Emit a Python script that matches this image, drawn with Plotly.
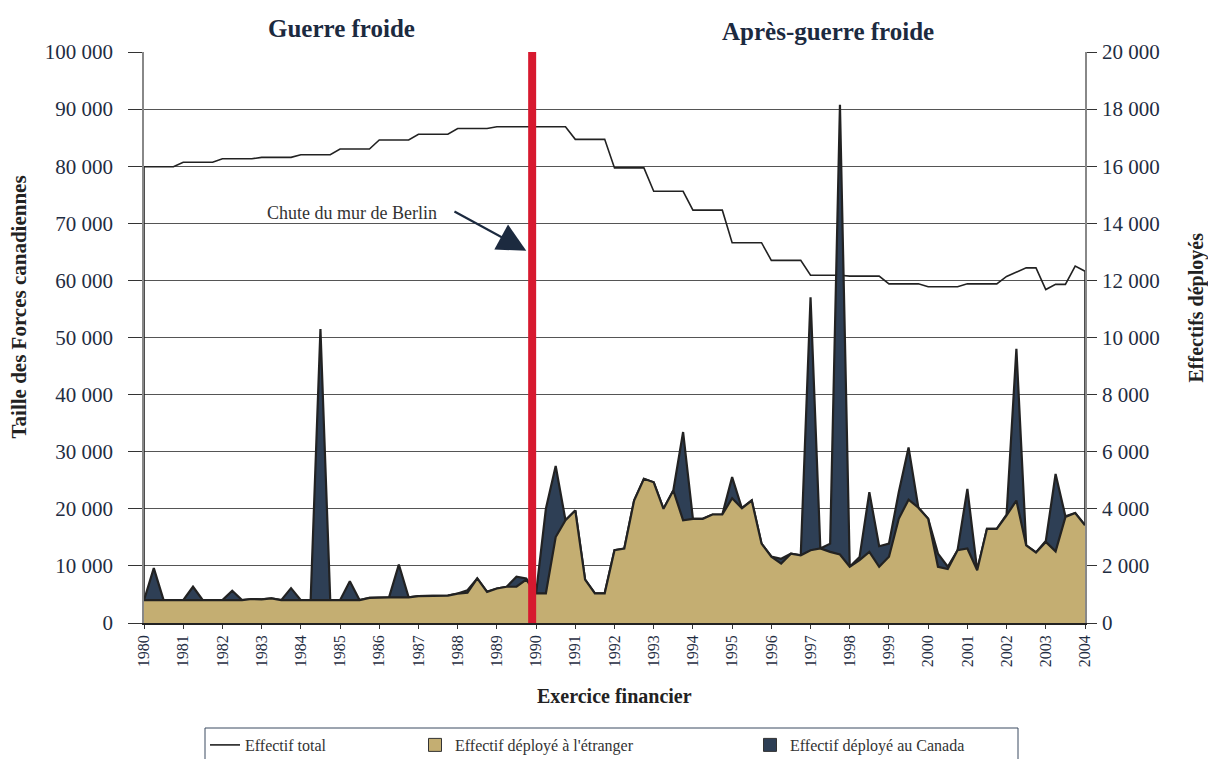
import plotly.graph_objects as go

# ---------------- data ----------------
quarters = [1980 + i / 4 for i in range(97)]  # fiscal quarters 1980.00 .. 2004.00

total_force = [
    79900, 79900, 79900, 79900,
    80700, 80700, 80700, 80700,
    81300, 81300, 81300, 81300,
    81550, 81550, 81550, 81550,
    82000, 82000, 82000, 82000,
    83000, 83000, 83000, 83000,
    84600, 84600, 84600, 84600,
    85600, 85600, 85600, 85600,
    86600, 86600, 86600, 86600,
    86900, 86900, 86900, 86900,
    86900, 86900, 86900, 86900,
    84700, 84700, 84700, 84700,
    79700, 79700, 79700, 79700,
    75600, 75600, 75600, 75600,
    72300, 72300, 72300, 72300,
    66600, 66600, 66600, 66600,
    63500, 63500, 63500, 63500,
    60900, 60900, 60900, 60900,
    60750, 60750, 60750, 60750,
    59400, 59400, 59400, 59400,
    58900, 58900, 58900, 58900,
    59400, 59400, 59400, 59400,
    60700, 61400, 62200, 62200,
    58400, 59300, 59300, 62500,
    61600,
]

deployed_abroad = [
    800, 800, 800, 800,
    800, 800, 800, 800,
    800, 800, 800, 840,
    830, 860, 800, 800,
    800, 800, 800, 800,
    800, 800, 800, 880,
    900, 900, 900, 900,
    940, 950, 950, 960,
    1030, 1060, 1560, 1090,
    1210, 1270, 1270, 1520,
    1040, 1040, 3010, 3600,
    3940, 1520, 1040, 1040,
    2550, 2610, 4290, 5050,
    4930, 4000, 4640, 3600,
    3650, 3650, 3800, 3800,
    4370, 4020, 4290, 2780,
    2320, 2080, 2430, 2370,
    2550, 2610, 2490, 2400,
    1970, 2200, 2490, 1970,
    2320, 3650, 4320, 4040,
    3650, 1970, 1890, 2550,
    2610, 1850, 3300, 3300,
    3770, 4290, 2720, 2470,
    2840, 2510, 3710, 3850,
    3420,
]

deployed_canada = [
    800, 1920, 800, 800,
    800, 1270, 800, 800,
    800, 1130, 800, 840,
    830, 860, 800, 1220,
    800, 800, 10300, 800,
    800, 1460, 800, 880,
    900, 900, 2050, 900,
    940, 950, 950, 960,
    1030, 1150, 1560, 1090,
    1210, 1270, 1620, 1560,
    1040, 4000, 5500, 3600,
    3940, 1520, 1040, 1040,
    2550, 2610, 4290, 5050,
    4930, 4000, 4640, 6690,
    3650, 3650, 3800, 3800,
    5110, 4020, 4290, 2780,
    2330, 2250, 2430, 2370,
    11410, 2610, 2780, 18150,
    1970, 2310, 4580, 2690,
    2780, 4580, 6150, 4040,
    3650, 2430, 1970, 2550,
    4700, 1850, 3300, 3300,
    3800, 9600, 2720, 2470,
    2870, 5220, 3740, 3850,
    3420,
]

year_ticks = list(range(1980, 2005))
left_ticks = list(range(0, 100001, 10000))
right_ticks = list(range(0, 20001, 2000))
berlin_wall_x = 1989.9

# line drawn from the baseline at both ends, as in the source
line_x = [quarters[0]] + quarters + [quarters[-1]]
line_y = [0] + total_force + [0]

FONT = "Liberation Serif"
NAVY = "#2E3F55"
TAN = "#C4AE72"
OUTLINE = "#222222"
TXT = "#1F2D42"

W, H = 1208, 759
ML, MR, MT, MB = 144, 123, 52, 136
PW, PH = W - ML - MR, H - MT - MB


def px_x(px):
    return (px - ML) / PW


def px_y(py):
    return (H - MB - py) / PH


fig = go.Figure()

fig.add_trace(go.Scatter(
    x=line_x, y=line_y, name="Effectif total", mode="lines",
    line=dict(color="#222222", width=1.6), yaxis="y", legend="legend",
    hoverinfo="skip"))

fig.add_trace(go.Scatter(
    x=quarters, y=deployed_canada, name="Effectif déployé au Canada",
    mode="lines", fill="tozeroy", fillcolor=NAVY, showlegend=False,
    line=dict(color=OUTLINE, width=2.2), yaxis="y2"))

fig.add_trace(go.Scatter(
    x=quarters, y=deployed_abroad, name="Effectif déployé à l'étranger",
    mode="lines", fill="tozeroy", fillcolor=TAN, showlegend=False,
    line=dict(color=OUTLINE, width=2.2), yaxis="y2"))

# legend swatches (square keys as in the source)
fig.add_trace(go.Scatter(
    x=[None], y=[None], name="Effectif déployé à l'étranger", mode="markers",
    marker=dict(symbol="square", size=13, color=TAN, line=dict(color="#333333", width=1)),
    yaxis="y2", legend="legend2"))
fig.add_trace(go.Scatter(
    x=[None], y=[None], name="Effectif déployé au Canada", mode="markers",
    marker=dict(symbol="square", size=13, color=NAVY, line=dict(color="#333333", width=1)),
    yaxis="y2", legend="legend3"))

legend_common = dict(
    orientation="h", xanchor="left", y=px_y(728), yanchor="top",
    bgcolor="rgba(0,0,0,0)", borderwidth=0,
    font=dict(family=FONT, size=16, color="#333333"), itemwidth=30)

fig.update_layout(
    width=W, height=H,
    margin=dict(l=ML, r=MR, t=MT, b=MB, autoexpand=False),
    paper_bgcolor="white", plot_bgcolor="white",
    separators=", ",
    font=dict(family=FONT, color=TXT, size=15),
    showlegend=True,
    legend=dict(x=px_x(205), **legend_common),
    legend2=dict(x=px_x(415), **legend_common),
    legend3=dict(x=px_x(750), **legend_common),
    xaxis=dict(
        range=[1980, 2004], tickmode="array", tickvals=year_ticks,
        ticktext=[str(y) for y in year_ticks], tickangle=-90,
        tickfont=dict(family=FONT, size=16, color=TXT),
        ticks="outside", ticklen=4, tickcolor="#333333",
        showline=True, linecolor="#222222", linewidth=1.5,
        showgrid=False, zeroline=False),
    yaxis=dict(
        range=[0, 100000], tickmode="array", tickvals=left_ticks,
        tickformat=",d", tickfont=dict(family=FONT, size=21, color=TXT),
        ticks="outside", ticklen=14, tickcolor="#333333",
        ticklabelstandoff=11,
        showline=True, linecolor="#888888", linewidth=1.5,
        showgrid=True, gridcolor="#555555", gridwidth=1, zeroline=False),
    yaxis2=dict(
        range=[0, 20000], tickmode="array", tickvals=right_ticks,
        tickformat=",d", tickfont=dict(family=FONT, size=21, color=TXT),
        overlaying="y", side="right",
        ticks="outside", ticklen=10, tickcolor="#333333",
        ticklabelstandoff=1,
        showline=True, linecolor="#888888", linewidth=1.5,
        showgrid=False, zeroline=False),
)

# Berlin wall marker
fig.add_shape(type="line", xref="x", yref="paper", x0=berlin_wall_x, x1=berlin_wall_x,
              y0=0, y1=1, line=dict(color="#D7192F", width=8), layer="above")
# legend frame
fig.add_shape(type="rect", xref="paper", yref="paper",
              x0=px_x(205), x1=px_x(1018), y0=px_y(728), y1=px_y(775),
              line=dict(color="#3A4A60", width=1), fillcolor="rgba(0,0,0,0)")

annotations = [
    dict(text="<b>Guerre froide</b>", xref="paper", yref="paper", x=0.21, y=1.0,
         yanchor="bottom", xanchor="center", showarrow=False, yshift=8,
         font=dict(family=FONT, size=25, color="#1C2A3F")),
    dict(text="<b>Après-guerre froide</b>", xref="paper", yref="paper", x=0.727, y=1.0,
         yanchor="bottom", xanchor="center", showarrow=False, yshift=5,
         font=dict(family=FONT, size=25, color="#1C2A3F")),
    dict(text="<b>Taille des Forces canadiennes</b>", xref="paper", yref="paper",
         x=0, xshift=-126, xanchor="center", y=0.5, yshift=30, textangle=-90,
         showarrow=False, font=dict(family=FONT, size=21, color="#222222")),
    dict(text="<b>Effectifs déployés</b>", xref="paper", yref="paper",
         x=1, xshift=111, xanchor="center", y=0.5, yshift=30, textangle=-90,
         showarrow=False, font=dict(family=FONT, size=20, color="#222222")),
    dict(text="<b>Exercice financier</b>", xref="paper", yref="paper",
         x=0.5, y=0, yshift=-73, showarrow=False, yanchor="middle",
         font=dict(family=FONT, size=20, color="#222222")),
    dict(text="Chute du mur de Berlin", xref="x", yref="y", x=1985.3, y=71800,
         showarrow=False, font=dict(family=FONT, size=18, color="#333333")),
    dict(text="", xref="x", yref="y", x=1989.75, y=65200,
         axref="x", ayref="y", ax=1987.88, ay=72200, showarrow=True,
         arrowhead=2, arrowsize=2.6, arrowwidth=2.2, arrowcolor="#1C2A3F"),
]
fig.update_layout(annotations=annotations)

fig.write_html(
    "out.html",
    config={"displayModeBar": False},
    post_script="document.body.style.margin='0';document.body.style.overflow='hidden';",
)
